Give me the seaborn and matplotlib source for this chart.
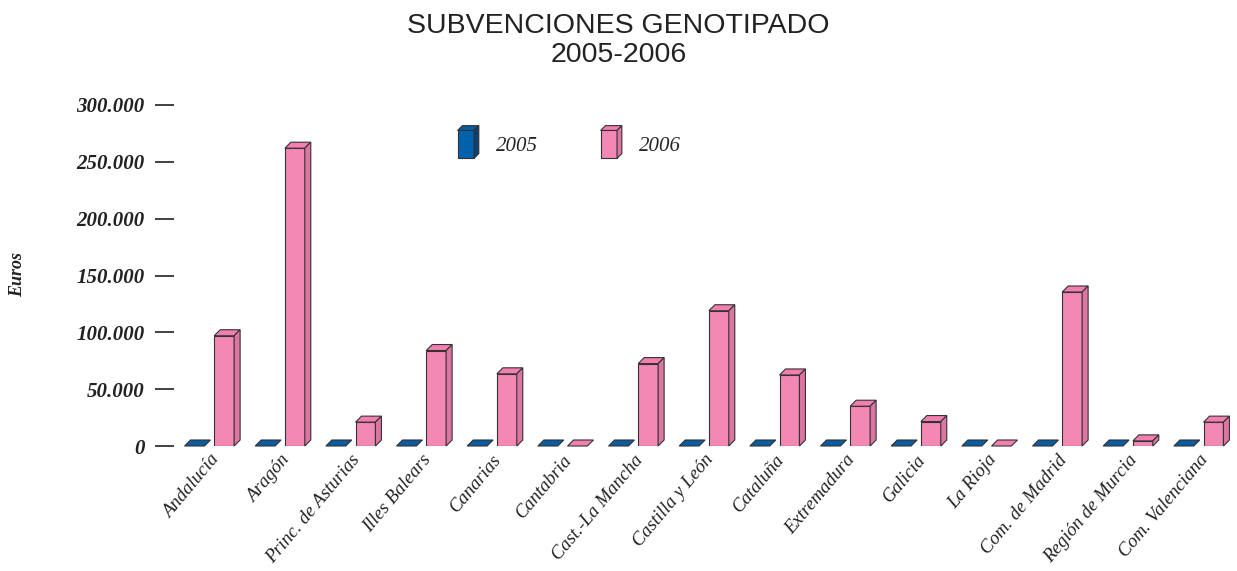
import pandas as pd
import matplotlib
matplotlib.use('Agg')
import matplotlib.pyplot as plt
import seaborn as sns
from matplotlib.patches import Polygon
from matplotlib.legend_handler import HandlerBase
from matplotlib.ticker import FuncFormatter

# Data
comunidades = ['Andalucía', 'Aragón', 'Princ. de Asturias', 'Illes Balears', 'Canarias',
               'Cantabria', 'Cast.-La Mancha', 'Castilla y León', 'Cataluña', 'Extremadura',
               'Galicia', 'La Rioja', 'Com. de Madrid', 'Región de Murcia', 'Com. Valenciana']
euros_2005 = [0, 0, 0, 0, 0, 0, 0, 0, 0, 0, 0, 0, 0, 0, 0]
euros_2006 = [97000, 262000, 21000, 84000, 63500, 0, 72500, 119000, 62500, 35000,
              21500, 0, 135500, 4500, 21000]
years = ['2005', '2006']

df = pd.DataFrame({
    'Comunidad': comunidades * 2,
    'Euros': euros_2005 + euros_2006,
    'Año': ['2005'] * len(comunidades) + ['2006'] * len(comunidades),
})

front = {'2005': '#0061ad', '2006': '#f388b5'}
side = {'2005': '#0a3f73', '2006': '#dc75a2'}
top = {'2005': '#0a5ba0', '2006': '#f27fb0'}
edge = '#333333'

sns.set_style('white')
plt.rcParams['font.family'] = ['Liberation Serif', 'DejaVu Serif']

fig = plt.figure(figsize=(12.37, 5.71), dpi=100)
ax = fig.add_axes([174 / 1237, 1 - 446 / 571, 1060 / 1237, 341 / 571])

sns.barplot(data=df, x='Comunidad', y='Euros', hue='Año', palette=front, saturation=1,
            width=0.84, gap=0.33, edgecolor=edge, linewidth=0.8,
            legend=False, ax=ax)

ax.set_xlim(-0.5, len(comunidades) - 0.5)
ax.set_ylim(0, 300000)

# pseudo 3D faces built from the seaborn bar patches
inv = ax.transData.inverted()
x0, y0 = inv.transform((0, 0))
x1, y1 = inv.transform((6, 6))
dx, dy = x1 - x0, y1 - y0

bars = list(ax.patches)
n = len(comunidades)
for i, p in enumerate(bars):
    yr = years[i // n]
    x, w, h = p.get_x(), p.get_width(), p.get_height()
    top_face = Polygon([(x, h), (x + w, h), (x + w + dx, h + dy), (x + dx, h + dy)],
                       closed=True, facecolor=top[yr], edgecolor=edge, linewidth=0.8,
                       clip_on=False, zorder=3)
    ax.add_patch(top_face)
    if h > 0:
        side_face = Polygon([(x + w, 0), (x + w + dx, dy), (x + w + dx, h + dy), (x + w, h)],
                            closed=True, facecolor=side[yr], edgecolor=edge, linewidth=0.8,
                            clip_on=False, zorder=3)
        ax.add_patch(side_face)
    p.set_zorder(3)
    if h == 0:
        p.set_visible(False)

sns.despine(ax=ax, left=True, bottom=True)
ax.grid(False)

ax.yaxis.set_major_formatter(FuncFormatter(lambda v, pos: f'{int(v):,}'.replace(',', '.')))
ax.set_yticks(range(0, 300001, 50000))
ax.tick_params(axis='y', length=14, width=1.2, color='#222222', pad=7, left=True)
for lbl in ax.get_yticklabels():
    lbl.set_fontsize(15)
    lbl.set_fontstyle('italic')
    lbl.set_fontweight('bold')
    lbl.set_color('#222222')

ax.tick_params(axis='x', length=0, pad=4)
ax.set_xticks(range(n))
ax.set_xticklabels(comunidades, rotation=50, ha='right', rotation_mode='anchor',
                   fontsize=13.5, fontstyle='italic', color='#222222')

ax.set_xlabel('')
ax.set_ylabel('')
fig.text(18 / 1237, 1 - 275 / 571, 'Euros', rotation=90, ha='center', va='center',
         fontsize=13, fontstyle='italic', fontweight='bold', color='#222222')

fig.suptitle('SUBVENCIONES GENOTIPADO\n2005-2006', y=0.978, fontsize=20.5,
             family=['Liberation Sans', 'DejaVu Sans'], color='#222222', linespacing=1.15)


class HandlerBox(HandlerBase):
    def create_artists(self, legend, orig_handle, xdescent, ydescent, width, height,
                       fontsize, trans):
        yr = orig_handle
        bw, bh, o = width * 0.75, height * 1.5, width * 0.22
        bx, by = -xdescent, -ydescent - height * 0.3
        f = Polygon([(bx, by), (bx + bw, by), (bx + bw, by + bh), (bx, by + bh)],
                    facecolor=front[yr], edgecolor=edge, linewidth=0.8, transform=trans)
        t = Polygon([(bx, by + bh), (bx + bw, by + bh), (bx + bw + o, by + bh + o),
                     (bx + o, by + bh + o)],
                    facecolor=top[yr], edgecolor=edge, linewidth=0.8, transform=trans)
        s = Polygon([(bx + bw, by), (bx + bw + o, by + o), (bx + bw + o, by + bh + o),
                     (bx + bw, by + bh)],
                    facecolor=side[yr], edgecolor=edge, linewidth=0.8, transform=trans)
        return [f, t, s]


ax.legend(years, years, handler_map={y: HandlerBox() for y in years},
          loc='center', bbox_to_anchor=(0.373, 0.883), ncol=2, frameon=False,
          prop={'family': 'Liberation Serif', 'style': 'italic', 'size': 15},
          handlelength=1.05, handleheight=1.0, handletextpad=0.8, columnspacing=3.0)

fig.savefig('out.png', dpi=100)
